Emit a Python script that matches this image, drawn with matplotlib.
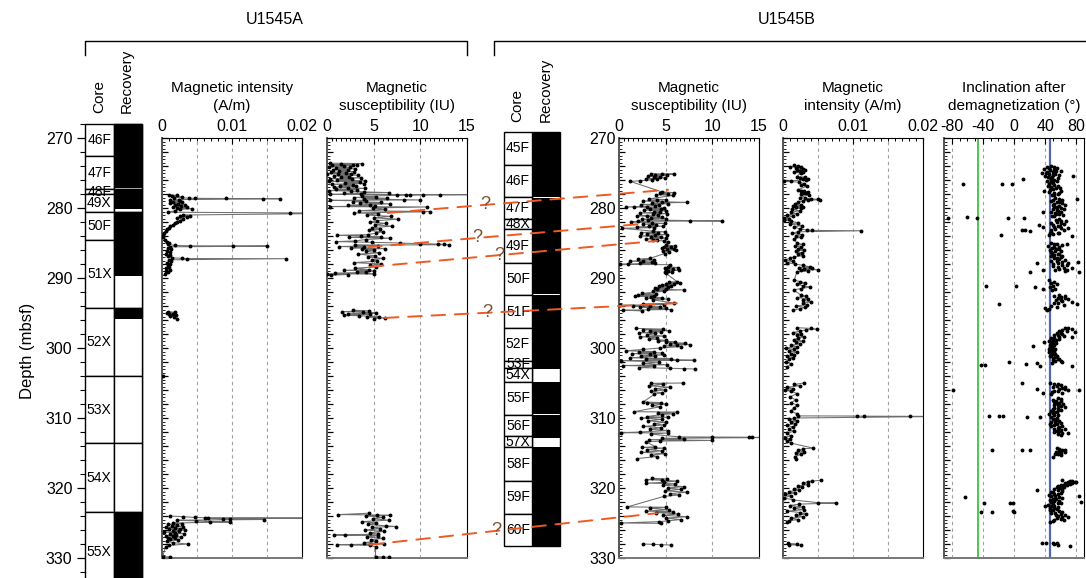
#!/usr/bin/env python3
"""
U1545A / U1545B core recovery and paleomagnetic depth plots.
"""

import numpy as np
import matplotlib

matplotlib.use("Agg")
import matplotlib.pyplot as plt
from matplotlib.lines import Line2D
from matplotlib.patches import ConnectionPatch, Rectangle
from matplotlib.ticker import FuncFormatter, MultipleLocator

plt.rcParams["font.family"] = ["Liberation Sans", "DejaVu Sans"]

# ---------------- data ----------------
# cores: name, top (mbsf), bottom (mbsf)
cores_a = [("46F", 268.0, 272.6), ("47F", 272.6, 277.3), ("48F", 277.3, 278.0),
           ("49X", 278.0, 280.5), ("50F", 280.5, 284.6), ("51X", 284.6, 294.3),
           ("52X", 294.3, 304.0), ("53X", 304.0, 313.6), ("54X", 313.6, 323.4),
           ("55X", 323.4, 335.0)]
recovered_a = [(268.0, 277.1), (277.4, 280.2), (280.5, 289.7), (294.3, 295.9), (323.4, 335.0)]

cores_b = [("45F", 269.1, 273.9), ("46F", 273.9, 278.5), ("47F", 278.5, 281.6),
           ("48X", 281.6, 283.0), ("49F", 283.0, 287.8), ("50F", 287.8, 292.5),
           ("51F", 292.5, 297.2), ("52F", 297.2, 301.8), ("53F", 301.8, 302.9),
           ("54X", 302.9, 304.8), ("55F", 304.8, 309.6), ("56F", 309.6, 312.6),
           ("57X", 312.6, 314.2), ("58F", 314.2, 319.0), ("59F", 319.0, 323.7),
           ("60F", 323.7, 328.3)]
recovered_b = [(269.1, 278.4), (278.6, 292.3), (292.5, 303.0), (304.8, 309.4),
               (309.6, 312.8), (314.2, 328.3)]

# U1545A magnetic intensity (depth, 10^-3 A/m)
a_int = [(278.1, 1.0), (278.2, 2.2), (278.3, 1.4), (278.4, 2.8), (278.5, 1.7), (278.6, 3.9),
         (278.62, 4.7), (278.64, 9.2), (278.66, 14.4), (278.68, 16.9), (278.8, 2.4), (278.9, 1.2),
         (279.0, 2.6), (279.1, 1.6), (279.2, 2.9), (279.3, 1.1), (279.4, 2.3), (279.5, 3.3),
         (279.6, 1.9), (279.7, 2.7), (279.8, 1.5), (279.9, 3.6), (280.0, 2.1), (280.1, 4.3),
         (280.2, 2.6), (280.4, 1.8), (280.6, 0.9), (280.7, 18.3), (280.72, 30.0), (281.0, 3.0),
         (281.1, 4.0), (281.2, 2.6), (281.3, 3.5), (281.4, 2.2), (281.6, 3.0), (281.8, 2.5),
         (282.0, 2.1), (282.2, 1.8), (282.4, 1.5), (282.6, 1.2), (282.8, 1.0), (283.0, 0.7),
         (283.3, 0.5), (283.6, 0.3), (283.9, 0.1), (284.2, 0.2), (284.5, 0.4), (284.8, 0.7),
         (285.0, 1.0), (285.2, 0.9), (285.35, 1.8), (285.4, 4.0), (285.42, 10.1), (285.44, 15.0),
         (285.55, 1.2), (285.7, 0.8), (285.9, 1.3), (286.1, 0.7), (286.3, 1.1), (286.5, 0.6),
         (286.7, 1.2), (286.9, 0.9), (287.1, 1.4), (287.2, 2.8), (287.22, 3.6), (287.24, 17.7),
         (287.4, 1.0), (287.6, 1.3), (287.8, 0.7), (288.0, 1.2), (288.2, 0.8), (288.4, 1.0),
         (288.6, 0.6), (288.8, 1.1), (289.0, 0.5), (289.2, 0.9), (289.4, 0.4),
         (294.8, 0.9), (294.9, 1.8), (295.0, 0.7), (295.1, 1.5), (295.2, 1.0), (295.3, 2.0),
         (295.4, 1.2), (295.6, 1.7), (295.8, 2.2), (304.0, 0.1),
         (324.0, 1.2), (324.1, 3.0), (324.2, 4.7), (324.25, 6.1), (324.3, 40.0), (324.35, 6.6),
         (324.4, 8.7), (324.45, 9.7), (324.5, 14.6), (324.6, 2.2), (324.7, 4.8), (324.8, 6.9),
         (324.85, 9.7), (325.0, 1.6), (325.1, 2.8), (325.2, 0.9), (325.3, 2.2), (325.4, 1.4),
         (325.5, 3.0), (325.6, 0.6), (325.7, 1.9), (325.8, 2.6), (325.9, 1.0), (326.0, 3.3),
         (326.1, 1.5), (326.2, 2.4), (326.3, 0.3), (326.4, 1.8), (326.5, 3.1), (326.6, 1.1),
         (326.7, 2.0), (326.8, 0.5), (326.9, 1.6), (327.0, 2.7), (327.1, 0.9), (327.2, 1.8),
         (327.3, 1.2), (327.4, 2.3), (327.6, 0.7), (327.8, 1.5), (328.0, 3.7), (328.2, 1.0),
         (328.4, 0.5), (329.8, 0.1), (329.85, 1.2)]

# U1545A magnetic susceptibility (depth, IU)
a_sus = [(273.6, 0.3), (273.65, 3.7), (273.7, 1.5), (273.8, 2.8), (273.85, 0.5), (273.9, 3.2),
         (274.0, 1.8), (274.1, 0.2), (274.2, 2.5), (274.3, 1.0), (274.4, 3.0), (274.5, 0.6),
         (274.6, 2.2), (274.7, 1.3), (274.8, 2.9), (274.9, 0.4), (275.0, 2.0), (275.1, 0.0),
         (275.15, 2.6), (275.2, 1.2), (275.3, 3.3), (275.4, 0.8), (275.5, 2.4), (275.6, 1.5),
         (275.7, 3.6), (275.8, 0.3), (275.9, 2.7), (276.0, 1.1), (276.1, 4.1), (276.2, 0.2),
         (276.3, 3.5), (276.4, 1.9), (276.5, 4.0), (276.6, 0.5), (276.7, 2.8), (276.8, 1.4),
         (276.9, 3.1), (277.0, 0.7), (277.1, 2.3), (277.2, 4.1), (277.3, 1.0), (277.4, 3.2),
         (277.5, 0.2), (277.6, 2.6), (277.7, 4.0), (277.8, 6.6), (277.9, 1.8), (278.0, 3.6),
         (278.05, 0.3), (278.1, 15.5), (278.12, 12.1), (278.14, 10.3), (278.16, 8.9),
         (278.18, 8.5), (278.2, 7.5), (278.3, 3.8), (278.4, 5.2), (278.5, 2.9), (278.6, 6.4),
         (278.7, 4.0), (278.8, 8.3), (278.85, 10.0), (278.9, 0.3), (279.0, 4.2), (279.1, 2.8),
         (279.2, 5.8), (279.3, 3.5), (279.4, 6.8), (279.5, 4.6), (279.6, 2.2), (279.7, 5.1),
         (279.8, 0.3), (279.85, 10.7), (280.0, 4.9), (280.2, 6.2), (280.4, 3.4), (280.5, 11.0),
         (280.55, 10.3), (280.7, 2.9), (280.8, 5.5), (281.0, 4.3), (281.2, 6.9), (281.4, 5.0),
         (281.6, 7.6), (281.8, 5.4), (282.0, 4.6), (282.2, 6.3), (282.4, 5.1), (282.6, 7.0),
         (282.8, 4.8), (283.0, 5.7), (283.2, 4.5), (283.4, 6.0), (283.6, 5.2), (283.8, 4.4),
         (283.9, 1.1), (284.0, 3.6), (284.1, 5.8), (284.2, 2.4), (284.3, 6.8), (284.5, 4.2),
         (284.7, 3.0), (284.8, 1.0), (284.9, 4.8), (285.0, 7.8), (285.1, 10.0), (285.15, 11.9),
         (285.2, 12.5), (285.25, 13.1), (285.3, 3.0), (285.4, 5.5), (285.5, 1.3), (285.6, 4.0),
         (285.7, 2.6), (285.8, 6.2), (285.9, 3.7), (286.0, 5.0), (286.2, 4.2), (286.4, 5.6),
         (286.6, 3.3), (286.8, 5.1), (287.0, 4.4), (287.2, 6.0), (287.4, 4.8), (287.6, 5.4),
         (287.8, 2.9), (288.0, 5.8), (288.2, 4.6), (288.4, 5.3), (288.6, 3.0), (288.8, 4.5),
         (288.9, 1.8), (289.0, 5.0), (289.1, 3.2), (289.2, 4.2), (289.3, 0.9), (289.4, 5.0),
         (289.45, 0.0), (289.5, 2.2), (289.6, 0.4),
         (294.6, 2.8), (294.7, 4.5), (294.8, 1.6), (294.9, 3.9), (295.0, 5.2), (295.1, 2.3),
         (295.2, 4.6), (295.3, 1.8), (295.4, 3.4), (295.5, 5.6), (295.6, 4.3), (295.7, 6.2),
         (295.8, 5.0),
         (323.6, 4.5), (323.8, 1.2), (323.85, 5.4), (323.9, 6.8), (324.0, 4.2), (324.2, 6.0),
         (324.4, 4.9), (324.6, 6.6), (324.8, 3.8), (325.0, 5.2), (325.2, 4.4), (325.4, 6.3),
         (325.5, 7.4), (325.6, 4.8), (325.8, 5.7), (326.0, 4.1), (326.2, 6.1), (326.4, 4.6),
         (326.6, 5.5), (326.7, 0.8), (326.75, 1.9), (326.8, 5.5), (327.0, 4.3), (327.2, 6.0),
         (327.4, 4.7), (327.6, 5.3), (327.8, 4.0), (328.0, 6.1), (328.1, 1.1), (328.15, 2.6),
         (328.2, 4.6), (328.4, 5.2), (329.8, 5.2), (329.85, 6.0), (329.9, 6.6)]

# U1545B magnetic susceptibility (depth, IU)
b_sus = [(275.1, 3.4), (275.15, 5.9), (275.2, 4.6), (275.3, 3.9), (275.35, 5.1), (275.45, 3.1),
         (275.5, 4.4), (275.6, 3.7), (275.7, 4.9), (275.8, 2.9), (275.9, 4.1), (276.0, 3.5),
         (276.1, 2.3), (276.2, 1.2), (277.7, 4.6), (277.8, 5.9), (277.9, 4.4), (278.0, 5.3),
         (278.1, 4.0), (278.2, 5.8), (278.7, 3.2), (278.8, 5.0), (278.9, 4.1), (279.0, 2.6),
         (279.1, 4.6), (279.2, 7.3), (279.3, 3.5), (279.4, 5.2), (279.5, 2.4), (279.6, 4.3),
         (279.7, 3.9), (279.8, 1.6), (279.85, 0.8), (279.9, 3.0), (280.0, 4.8), (280.1, 3.3),
         (280.2, 4.5), (280.3, 2.7), (280.4, 5.0), (280.5, 3.8), (280.6, 4.4), (280.7, 2.3),
         (280.8, 5.1), (280.9, 3.6), (281.0, 4.2), (281.1, 1.9), (281.2, 3.0), (281.3, 4.6),
         (281.4, 3.4), (281.5, 5.0), (281.6, 2.5), (281.7, 3.1), (281.8, 7.6), (281.85, 11.0),
         (281.9, 2.0), (282.0, 1.3), (282.1, 3.5), (282.2, 4.9), (282.3, 2.6), (282.4, 4.0),
         (282.5, 3.2), (282.6, 4.7), (282.7, 1.9), (282.8, 3.8), (282.9, 0.3), (283.3, 3.6),
         (283.4, 4.9), (283.5, 2.4), (283.6, 4.2), (283.7, 3.0), (283.8, 5.1), (283.9, 3.9),
         (284.0, 2.2), (284.1, 4.5), (284.2, 3.4), (284.3, 5.0), (284.4, 2.9), (284.5, 4.1),
         (284.6, 3.6), (284.7, 4.8), (284.8, 5.2), (285.3, 5.0), (285.4, 6.0), (285.5, 4.8),
         (285.6, 5.6), (285.7, 4.6), (285.8, 5.9), (285.9, 5.1), (286.0, 6.1), (286.1, 4.7),
         (286.3, 5.4), (286.5, 4.9), (287.2, 3.3), (287.3, 2.0), (287.4, 3.8), (287.5, 2.6),
         (287.6, 1.2), (287.7, 3.5), (287.8, 2.3), (287.9, 3.9), (288.0, 1.0), (288.05, 0.1),
         (288.1, 5.5), (288.4, 5.2), (288.5, 6.3), (288.6, 4.9), (288.7, 5.8), (288.8, 5.0),
         (288.9, 6.4), (289.0, 5.3), (289.1, 4.9), (289.2, 5.7), (289.3, 5.0), (290.5, 6.2),
         (290.6, 5.4), (290.7, 6.5), (290.8, 5.0), (290.9, 5.9), (291.0, 4.6), (291.1, 5.6),
         (291.2, 4.3), (291.3, 5.3), (291.4, 3.9), (291.5, 5.0), (291.6, 4.1), (291.7, 7.0),
         (291.8, 3.6), (291.9, 4.8), (292.2, 2.5), (292.3, 4.0), (292.4, 2.0), (292.5, 3.8),
         (292.6, 1.7), (292.7, 3.4), (292.8, 4.6), (292.9, 2.9), (293.0, 5.2), (293.1, 3.6),
         (293.6, 5.9), (293.7, 2.6), (293.8, 4.8), (293.9, 0.1), (293.95, 3.3), (294.0, 1.5),
         (294.1, 4.4), (294.2, 2.3), (294.3, 5.0), (294.4, 3.1), (294.5, 5.6), (294.6, 0.4),
         (294.7, 2.5), (297.2, 1.8), (297.3, 4.7), (297.4, 2.6), (297.5, 5.4), (297.6, 3.3),
         (297.7, 4.5), (297.8, 2.1), (297.9, 3.9), (298.1, 3.0), (298.3, 4.8), (298.4, 2.2),
         (298.5, 4.1), (298.7, 3.2), (298.9, 5.0), (299.0, 4.2), (299.1, 6.0), (299.2, 5.0),
         (299.3, 7.1), (299.4, 5.5), (299.5, 7.6), (299.6, 6.2), (299.7, 4.8), (299.8, 6.6),
         (300.0, 4.4), (300.2, 2.6), (300.4, 0.7), (300.5, 3.8), (300.6, 2.1), (300.7, 4.6),
         (300.8, 1.4), (300.9, 3.3), (301.0, 4.8), (301.1, 2.4), (301.2, 3.9), (301.4, 1.2),
         (301.5, 5.6), (301.6, 2.9), (301.7, 6.2), (301.75, 8.0), (301.8, 0.2), (302.0, 4.3),
         (302.2, 2.6), (302.4, 5.1), (302.5, 0.4), (302.6, 3.7), (302.8, 2.1), (302.9, 5.5),
         (302.95, 7.0), (303.0, 8.1), (305.0, 6.9), (305.05, 3.4), (305.2, 4.7), (305.4, 3.2),
         (305.6, 5.5), (305.8, 3.9), (306.0, 4.9), (306.2, 3.4), (306.4, 4.6), (306.6, 3.8),
         (307.7, 2.6), (307.8, 4.5), (307.9, 3.0), (308.0, 5.0), (308.2, 3.5), (308.4, 4.4),
         (309.1, 1.6), (309.15, 6.2), (309.3, 4.2), (309.4, 5.8), (309.5, 4.6), (309.8, 3.0),
         (309.9, 5.2), (310.0, 2.4), (310.2, 4.6), (310.4, 3.1), (310.6, 5.0), (310.8, 3.7),
         (311.0, 4.8), (311.2, 2.6), (311.4, 4.5), (311.6, 3.3), (311.8, 5.2), (312.0, 2.2),
         (312.1, 0.2), (312.15, 5.2), (312.3, 3.4), (312.7, 6.4), (312.72, 10.0), (312.74, 13.9),
         (312.76, 14.3), (312.78, 18.0), (312.9, 4.6), (313.0, 7.0), (313.1, 3.2), (313.2, 10.0),
         (313.3, 4.4), (313.4, 2.9), (314.1, 3.9), (314.2, 2.5), (314.3, 4.8), (314.5, 3.0),
         (314.7, 4.6), (314.9, 2.4), (315.1, 4.9), (315.3, 3.4), (315.5, 4.1), (315.8, 1.9),
         (318.6, 3.5), (318.7, 5.1), (318.8, 2.9), (318.9, 4.6), (319.0, 6.2), (319.2, 4.8),
         (319.3, 2.9), (319.4, 6.0), (319.6, 4.7), (319.8, 7.0), (320.0, 5.2), (320.2, 6.6),
         (320.4, 4.9), (320.6, 7.3), (320.8, 5.5), (321.0, 6.4), (321.2, 4.8), (322.7, 0.9),
         (322.75, 5.0), (322.9, 3.3), (323.1, 5.4), (323.3, 2.9), (323.4, 5.8), (323.5, 4.0),
         (323.7, 6.3), (323.9, 4.7), (324.1, 7.3), (324.3, 5.0), (324.5, 6.6), (324.7, 5.2),
         (324.8, 4.3), (325.0, 0.2), (325.05, 4.5), (328.0, 2.6), (328.05, 3.6), (328.1, 4.5),
         (328.15, 5.6)]

# U1545B magnetic intensity (depth, 10^-3 A/m)
b_int = [(273.9, 1.5), (274.0, 2.2), (274.1, 1.0), (274.2, 2.6), (274.3, 1.8), (274.4, 2.9),
         (274.5, 2.0), (274.6, 3.1), (274.7, 2.4), (274.8, 2.8), (274.9, 1.6), (275.0, 2.5),
         (275.5, 2.0), (275.6, 3.2), (275.7, 2.4), (275.8, 3.6), (275.9, 2.9), (276.0, 3.3),
         (276.1, 1.2), (276.2, 0.1), (276.3, 2.3), (276.5, 3.0), (276.7, 2.6), (276.9, 3.4),
         (277.4, 2.1), (277.5, 3.0), (277.6, 2.6), (277.7, 3.5), (277.8, 2.8), (277.9, 3.3),
         (278.0, 2.5), (278.1, 3.7), (278.5, 2.4), (278.6, 3.2), (278.7, 4.0), (278.75, 5.0),
         (278.8, 5.3), (278.9, 3.6), (279.0, 2.8), (279.2, 2.2), (279.4, 1.7), (279.6, 2.5),
         (279.7, 1.4), (279.8, 2.9), (279.9, 1.9), (280.0, 2.6), (280.2, 1.3), (280.4, 2.4),
         (280.6, 1.1), (280.8, 2.0), (281.0, 0.6), (281.2, 1.4), (281.4, 0.2), (281.5, 0.9),
         (281.7, 0.1), (281.9, 1.1), (282.1, 2.2), (282.3, 1.0), (282.5, 2.7), (282.7, 1.6),
         (283.0, 2.4), (283.15, 3.4), (283.2, 4.1), (283.25, 11.2), (283.4, 2.1), (283.6, 1.3),
         (283.8, 2.7), (284.0, 1.8), (284.2, 2.5), (284.4, 1.5), (285.0, 2.0), (285.2, 2.8),
         (285.4, 1.7), (285.6, 2.6), (285.8, 2.2), (286.0, 3.0), (286.2, 1.8), (286.4, 2.7),
         (286.6, 2.1), (286.8, 2.9), (287.0, 1.5), (287.2, 1.0), (287.4, 0.3), (287.6, 1.4),
         (287.8, 0.5), (288.0, 1.7), (288.2, 2.9), (288.4, 3.8), (288.5, 2.3), (288.6, 4.1),
         (288.7, 3.0), (288.8, 5.0), (288.9, 2.6), (289.0, 3.5), (289.1, 2.0), (290.3, 1.6),
         (290.5, 2.4), (290.7, 3.2), (290.9, 2.0), (291.1, 2.8), (291.3, 3.9), (291.5, 2.6),
         (291.7, 1.5), (292.4, 2.5), (292.6, 3.3), (292.8, 2.0), (293.0, 3.6), (293.2, 2.8),
         (293.4, 4.0), (293.6, 2.9), (293.8, 3.4), (294.0, 1.9), (294.2, 3.1), (294.4, 2.4),
         (294.6, 1.4), (297.1, 2.0), (297.2, 4.0), (297.3, 4.9), (297.4, 3.3), (297.6, 2.4),
         (297.8, 1.4), (298.0, 2.6), (298.2, 2.0), (298.4, 3.0), (298.6, 2.2), (298.8, 1.6),
         (299.0, 2.8), (299.2, 1.9), (299.4, 2.4), (299.6, 1.2), (299.8, 2.0), (300.0, 0.4),
         (300.2, 1.5), (300.4, 0.8), (300.6, 2.0), (300.8, 1.1), (301.0, 1.6), (301.2, 0.5),
         (301.4, 1.4), (301.6, 0.9), (302.0, 0.4), (302.3, 1.2), (302.7, 0.6), (305.0, 3.0),
         (305.2, 1.6), (305.4, 2.4), (305.6, 0.6), (305.8, 1.4), (306.0, 0.3), (306.2, 1.2),
         (306.5, 2.0), (307.0, 1.0), (307.4, 1.8), (307.8, 1.2), (308.2, 2.0), (308.6, 1.5),
         (309.0, 1.1), (309.4, 2.0), (309.7, 2.2), (309.72, 10.5), (309.74, 11.6), (309.76, 18.2),
         (309.78, 23.0), (310.0, 1.6), (310.2, 0.8), (310.4, 2.0), (310.6, 1.2), (310.8, 1.7),
         (311.0, 0.6), (311.3, 1.4), (311.6, 0.9), (311.9, 1.5), (312.2, 0.5), (312.5, 1.1),
         (312.8, 0.3), (313.0, 1.0), (313.3, 0.5), (313.6, 1.2), (314.3, 4.3), (314.4, 2.9),
         (314.6, 2.2), (314.8, 3.0), (315.0, 1.8), (315.2, 2.6), (315.5, 1.7), (315.8, 1.9),
         (318.9, 5.4), (319.0, 4.2), (319.1, 3.5), (319.3, 2.9), (319.5, 3.6), (319.7, 2.2),
         (319.9, 2.7), (320.1, 1.5), (320.3, 2.3), (320.5, 0.8), (320.7, 1.7), (320.9, 0.3),
         (321.1, 1.1), (321.4, 0.1), (321.7, 1.4), (322.1, 5.0), (322.15, 7.5), (322.3, 2.3),
         (322.5, 1.0), (322.7, 2.8), (322.9, 1.6), (323.1, 3.0), (323.3, 0.6), (323.5, 2.4),
         (323.7, 3.3), (323.9, 1.9), (324.1, 2.8), (324.3, 1.2), (324.5, 2.2), (324.7, 0.8),
         (324.8, 0.6), (327.9, 0.7), (328.0, 2.0), (328.1, 0.9), (328.2, 2.5)]

# U1545B inclination after demagnetization (depth, degrees)
b_inc = [(274.0, 48), (274.2, 42), (274.3, 55), (274.4, 38), (274.5, 51), (274.6, 46), (274.7, 60),
         (274.8, 43), (274.9, 50), (275.0, 36), (275.1, 53), (275.2, 45), (275.3, 58), (275.4, 40),
         (275.5, 49), (275.6, 44), (275.7, 56), (275.8, 47), (276.0, 52), (276.2, 42), (276.4, 50),
         (276.6, 45), (276.8, 57), (277.0, 48), (277.2, 54), (277.4, 46), (277.6, 60), (277.8, 51),
         (278.0, 56), (278.2, 49), (278.6, 53), (278.8, 62), (279.0, 47), (279.2, 58), (279.4, 52),
         (279.6, 65), (279.8, 55), (280.0, 60), (280.2, 50), (280.4, 57), (280.6, 48), (280.8, 54),
         (281.0, 63), (281.2, 52), (281.6, 58), (281.8, 67), (282.0, 55), (282.2, 61), (282.4, 50),
         (282.6, 59), (282.8, 70), (283.0, 53), (283.2, 64), (283.4, 47), (283.6, 56), (283.8, 45),
         (285.0, 48), (285.2, 55), (285.3, 62), (285.4, 44), (285.6, 52), (285.8, 58), (286.0, 46),
         (286.2, 53), (286.4, 49), (286.6, 56), (286.8, 47), (287.0, 60), (287.2, 51), (287.4, 66),
         (287.6, 55), (287.8, 70), (288.0, 50), (288.2, 62), (288.4, 57), (288.6, 74), (288.8, 53),
         (289.0, 65), (290.3, 45), (290.5, 52), (290.7, 48), (290.9, 55), (291.1, 50), (291.3, 46),
         (291.5, 53), (291.7, 49), (292.4, 58), (292.6, 65), (292.8, 56), (293.0, 70), (293.2, 60),
         (293.4, 74), (293.6, 52), (293.8, 64), (294.0, 47), (294.2, 55), (294.4, 45), (294.6, 42),
         (297.1, 70), (297.2, 66), (297.3, 75), (297.4, 62), (297.5, 58), (297.6, 68), (297.8, 55),
         (298.0, 62), (298.2, 52), (298.4, 58), (298.6, 48), (298.8, 54), (299.0, 45), (299.2, 50),
         (299.4, 47), (299.6, 52), (299.8, 46), (300.0, 49), (300.2, 45), (300.4, 51), (300.6, 47),
         (300.8, 53), (301.0, 48), (301.2, 55), (301.4, 50), (301.6, 58), (301.8, 53), (302.0, 62),
         (302.2, 49), (305.0, 46), (305.2, 52), (305.3, 60), (305.4, 55), (305.6, 65), (305.8, 58),
         (306.0, 70), (306.2, 52), (306.4, 62), (306.6, 48), (307.2, 56), (307.4, 50), (307.6, 60),
         (307.8, 54), (308.0, 63), (308.2, 57), (308.4, 66), (308.6, 52), (308.8, 60), (309.0, 48),
         (309.2, 55), (309.4, 45), (309.6, 52), (309.8, 47), (310.0, 55), (310.2, 50), (310.4, 58),
         (310.6, 53), (310.8, 46), (311.0, 51), (311.2, 62), (311.4, 56), (311.6, 66), (311.8, 58),
         (312.0, 52), (312.2, 70), (312.4, 60), (314.3, 55), (314.5, 62), (314.7, 58), (314.9, 65),
         (315.1, 53), (315.3, 60), (315.5, 50), (318.9, 62), (319.0, 75), (319.1, 70), (319.2, 80),
         (319.3, 66), (319.4, 72), (319.5, 60), (319.6, 68), (319.7, 56), (319.8, 64), (320.0, 58),
         (320.2, 52), (320.4, 62), (320.6, 48), (320.8, 57), (321.0, 45), (321.2, 53), (321.4, 62),
         (321.6, 50), (321.8, 58), (322.0, 48), (322.2, 56), (322.4, 44), (322.6, 52), (322.8, 46),
         (323.0, 55), (323.2, 50), (323.4, 62), (323.6, 53), (323.8, 66), (324.0, 57), (324.2, 70),
         (324.4, 60), (324.6, 52), (324.8, 46), (327.8, 50), (327.9, 55), (328.0, 52), (328.1, 57),
         (274.1, 52), (274.35, 45), (274.65, 54), (274.95, 41), (275.25, 50), (275.65, 47),
         (276.1, 55), (276.3, 47), (276.7, 52), (276.9, 44), (277.1, 59), (277.3, 50), (277.7, 45),
         (277.9, 58), (278.1, 52), (278.7, 58), (278.9, 50), (279.1, 55), (279.3, 62), (279.5, 50),
         (279.7, 58), (279.9, 52), (280.1, 64), (280.3, 55), (280.5, 61), (280.7, 53), (280.9, 58),
         (281.1, 49), (281.7, 54), (281.9, 60), (282.1, 48), (282.3, 64), (282.5, 56), (282.7, 52),
         (282.9, 60), (283.1, 48), (283.5, 58), (283.7, 50), (285.1, 52), (285.5, 58), (285.7, 49),
         (285.9, 54), (286.1, 60), (286.3, 48), (286.5, 58), (286.7, 52), (286.9, 62), (287.1, 55),
         (287.3, 58), (287.5, 48), (287.7, 62), (287.9, 56), (288.1, 68), (288.3, 50), (288.5, 64),
         (288.7, 58), (288.9, 68), (292.5, 52), (292.7, 60), (292.9, 66), (293.1, 54), (293.3, 62),
         (293.5, 57), (297.9, 60), (298.1, 56), (298.3, 64), (298.5, 52), (298.7, 58), (298.9, 50),
         (299.1, 48), (299.3, 54), (299.5, 46), (299.7, 50), (299.9, 48), (300.1, 53), (300.3, 47),
         (300.5, 45), (300.7, 52), (300.9, 49), (301.1, 46), (301.3, 53), (301.5, 56), (301.7, 50),
         (301.9, 60), (305.1, 56), (305.5, 50), (305.7, 62), (305.9, 66), (306.1, 57), (306.3, 49),
         (307.3, 60), (307.5, 54), (307.7, 52), (307.9, 58), (308.1, 52), (308.3, 61), (308.5, 56),
         (308.7, 50), (308.9, 56), (309.1, 52), (309.3, 50), (309.5, 56), (310.1, 52), (310.3, 55),
         (310.5, 48), (310.7, 60), (310.9, 55), (311.1, 48), (311.3, 58), (311.5, 52), (311.7, 60),
         (311.9, 55), (312.1, 62), (312.3, 56), (314.4, 58), (314.6, 66), (314.8, 54), (315.0, 60),
         (315.2, 56), (319.05, 72), (319.15, 78), (319.25, 68), (319.35, 74), (319.55, 64),
         (319.75, 60), (319.9, 55), (320.1, 62), (320.3, 56), (320.5, 50), (320.7, 60), (320.9, 52),
         (321.1, 48), (321.3, 58), (321.5, 54), (321.7, 46), (321.9, 52), (322.1, 60), (322.3, 50),
         (322.5, 47), (322.7, 56), (322.9, 52), (323.1, 46), (323.3, 58), (323.5, 48), (323.7, 60),
         (323.9, 54), (324.1, 62), (324.3, 55), (324.5, 64), (324.7, 50),
         # scattered values
         (276.6, -65), (276.5, -16), (276.5, -3), (275.9, 12), (277.6, 38), (275.4, 75.5),
         (278.7, 80.6), (281.4, -84.4), (281.3, -60.8), (281.4, -48), (281.4, -7.3), (281.4, 12.9),
         (280.6, 37.7), (283.9, -17), (283.2, 10), (283.2, 14), (283.3, 20.6), (287.9, 29),
         (289.1, 20.6), (288.9, 37.7), (287.7, 82.6), (289.1, 83.6), (291.2, -36), (291.2, 2.2),
         (291.3, 27), (293.7, -19), (293.7, 81.4), (299.7, 24.9), (302.4, -42.8), (302.4, -37.7),
         (302.0, -6), (302.3, 15), (302.1, 29), (302.5, 33.4), (302.5, 74), (305.0, 10),
         (306.0, -78.8), (305.8, 29), (306.4, 37.7), (306.0, 84), (309.7, -31.7), (309.7, -19.3),
         (309.7, -13.8), (309.8, 17), (309.9, 33.4), (314.6, -28.7), (314.5, 10), (314.5, 20.6),
         (320.3, 29), (321.3, -62.6), (322.2, -38.6), (323.4, -42.5), (323.4, -28.7),
         (322.2, -5.3), (322.2, -1.7), (323.3, -1.7), (323.4, 0), (322.6, 39.9), (327.8, 35.6),
         (327.8, 41.1), (328.3, 72), (322.0, 85.7), (321.1, 84), (282.4, 31.6), (282.7, 36.7),
         (283.6, 46.3), (284.0, 74), (285.2, 67.7), (291.5, 37.7), (294.3, 40), (299.1, 38),
         (298.4, 74), (297.7, 79)]

gad_inc = [-46, 46]

# correlations: A susceptibility (value, depth) -> B susceptibility (value, depth)
ties = [((6.5, 280.7), (5.25, 277.4)), ((4.4, 285.6), (2.25, 282.3)),
        ((4.6, 288.4), (4.07, 284.7)), ((6.2, 295.7), (6.2, 293.6)),
        ((4.6, 328.1), (4.07, 323.6))]
tie_q_pos = [0.35, 0.40, 0.45, 0.35, 0.44]

# ---------------- figure ----------------
W, H = 1086, 578
fig = plt.figure(figsize=(W / 100, H / 100), dpi=100)


def depth_at(y):
    return 270 + (y - 138) / 7.0


def px_axes(x0, x1, y0, y1):
    return fig.add_axes([x0 / W, 1 - y1 / H, (x1 - x0) / W, (y1 - y0) / H])


def fig_line(xs, ys):
    fig.add_artist(Line2D([x / W for x in xs], [1 - y / H for y in ys],
                          color="black", lw=1.0, transform=fig.transFigure))


def core_column(x0, x1, y0, y1, cores, recovered, lines_in_rec):
    ax = px_axes(x0, x1, y0, y1)
    ax.set_xlim(0, 2)
    ax.set_ylim(depth_at(y1), depth_at(y0))
    for s in ax.spines.values():
        s.set_visible(False)
    ax.set_xticks([])
    top, bot = cores[0][1], cores[-1][2]
    ax.add_patch(Rectangle((1, top), 1, bot - top, fc="white", ec="black", lw=1, clip_on=False))
    for name, t, b in cores:
        ax.add_patch(Rectangle((0, t), 1, b - t, fc="white", ec="black", lw=1, clip_on=False))
        if lines_in_rec:
            ax.add_patch(Rectangle((1, t), 1, b - t, fc="white", ec="black", lw=1, clip_on=False))
        ax.text(0.5, (t + b) / 2, name, ha="center", va="center", fontsize=10, clip_on=False)
    for t, b in recovered:
        ax.add_patch(Rectangle((1, t), 1, b - t, fc="black", ec="none", clip_on=False, zorder=3))
    return ax


def data_panel(x0, x1, xlim, major, minor, grid, fmt, title, depth_labels=False):
    y0, y1 = 138, 558
    ax = px_axes(x0, x1, y0, y1)
    ax.set_xlim(*xlim)
    ax.set_ylim(depth_at(y1), depth_at(y0))
    ax.xaxis.tick_top()
    ax.xaxis.set_major_locator(MultipleLocator(major))
    ax.xaxis.set_minor_locator(MultipleLocator(minor))
    ax.xaxis.set_major_formatter(FuncFormatter(fmt))
    ax.yaxis.set_major_locator(MultipleLocator(2))
    ax.yaxis.set_minor_locator(MultipleLocator(0.5))
    ax.tick_params(axis="x", which="major", direction="in", length=4, labelsize=11.5, pad=3)
    ax.tick_params(axis="x", which="minor", direction="in", length=2.5, width=0.7)
    ax.tick_params(axis="y", which="major", direction="in", length=4.5, width=0.9)
    ax.tick_params(axis="y", which="minor", direction="in", length=1.8, width=0.6)
    if depth_labels:
        ax.yaxis.set_major_formatter(
            FuncFormatter(lambda v, p: f"{v:.0f}" if abs(v % 10) < 1e-6 else ""))
        ax.tick_params(axis="y", labelsize=11.5, pad=2)
    else:
        ax.tick_params(axis="y", labelleft=False)
    for g in grid:
        ax.axvline(g, color="#a0a0a0", lw=0.8, ls=(0, (3, 3)), zorder=1)
    ax.spines["top"].set_color("black")
    ax.spines["right"].set_color("black")
    ax.spines["left"].set_color("#555555")
    ax.spines["left"].set_linewidth(1.4)
    ax.spines["bottom"].set_color("#777777")
    ax.spines["bottom"].set_linewidth(1.4)
    fig.text((x0 + x1) / 2 / W, 1 - 97 / H, title, ha="center", va="center",
             fontsize=11, linespacing=1.35)
    return ax


def draw_series(ax, pairs, connect=True):
    d = np.array([p[0] for p in pairs])
    v = np.array([p[1] for p in pairs])
    if connect:
        cut = np.where(np.diff(d) > 1.6)[0] + 1
        for dd, vv in zip(np.split(d, cut), np.split(v, cut)):
            ax.plot(vv, dd, color="#6e6e6e", lw=0.75, zorder=2)
    ax.plot(v, d, "o", ms=2.8, color="black", mec="none", zorder=3)


def int_fmt(v, p):
    return "0" if abs(v) < 1e-12 else f"{v:g}"


def num_fmt(v, p):
    return f"{v:.0f}"


# column A
col_a = core_column(85, 142, 124, 578, cores_a, recovered_a, True)
col_a.yaxis.set_major_locator(MultipleLocator(10))
col_a.yaxis.set_minor_locator(MultipleLocator(2))
col_a.tick_params(axis="y", which="major", direction="out", length=6, width=0.9,
                  labelsize=11.5, pad=3)
col_a.tick_params(axis="y", which="minor", direction="out", length=3.5, width=0.8)
col_a.set_ylabel("Depth (mbsf)", fontsize=12, labelpad=8)

# column B
col_b = core_column(504, 560, 132, 546, cores_b, recovered_b, False)
col_b.set_yticks([])

ax_ai = data_panel(162, 302, (0, 0.02), 0.01, 0.001, [0.005, 0.01, 0.015], int_fmt,
                   "Magnetic intensity\n(A/m)")
ax_as = data_panel(327, 467, (0, 15), 5, 0.5, [5, 10], num_fmt,
                   "Magnetic\nsusceptibility (IU)")
ax_bs = data_panel(619, 759, (0, 15), 5, 0.5, [5, 10], num_fmt,
                   "Magnetic\nsusceptibility (IU)", depth_labels=True)
ax_bi = data_panel(783, 923, (0, 0.02), 0.01, 0.001, [0.005, 0.01, 0.015], int_fmt,
                   "Magnetic\nintensity (A/m)")
ax_inc = data_panel(944, 1084, (-90, 90), 40, 10, [-80, -40, 0, 40, 80], num_fmt,
                    "Inclination after\ndemagnetization (°)")

draw_series(ax_ai, [(d, v * 1e-3) for d, v in a_int])
draw_series(ax_as, a_sus)
draw_series(ax_bs, b_sus)
draw_series(ax_bi, [(d, v * 1e-3) for d, v in b_int])
draw_series(ax_inc, b_inc, connect=False)
ax_inc.axvline(gad_inc[0], color="#3cc43c", lw=1.3, zorder=2)
ax_inc.axvline(gad_inc[1], color="#5068b4", lw=1.6, zorder=2)

# core / recovery headers
for xc, yb, txt in [(99, 113, "Core"), (127, 113, "Recovery"),
                    (517, 122, "Core"), (546, 122, "Recovery")]:
    fig.text(xc / W, 1 - yb / H, txt, rotation=90, ha="center", va="bottom", fontsize=11)

# hole brackets
fig_line([85, 85, 467, 467], [55, 41, 41, 55])
fig_line([494, 494, 1086], [55, 41, 41])
fig.text(275 / W, 1 - 19 / H, "U1545A", ha="center", va="center", fontsize=11.5)
fig.text(787 / W, 1 - 19 / H, "U1545B", ha="center", va="center", fontsize=11.5)

# correlation tie lines
for (pa, pb), q in zip(ties, tie_q_pos):
    con = ConnectionPatch(xyA=pa, coordsA=ax_as.transData, xyB=pb, coordsB=ax_bs.transData,
                          color="#ee5a24", lw=1.4, linestyle=(0, (7, 5)), zorder=6)
    fig.add_artist(con)
    a_px = ax_as.transData.transform(pa)
    b_px = ax_bs.transData.transform(pb)
    qx, qy = a_px + q * (b_px - a_px)
    fig.text(qx / W, qy / H, "?", ha="center", va="center", fontsize=13,
             color="#7a5232", zorder=7)

fig.savefig("out.png", dpi=100)
plt.close(fig)
